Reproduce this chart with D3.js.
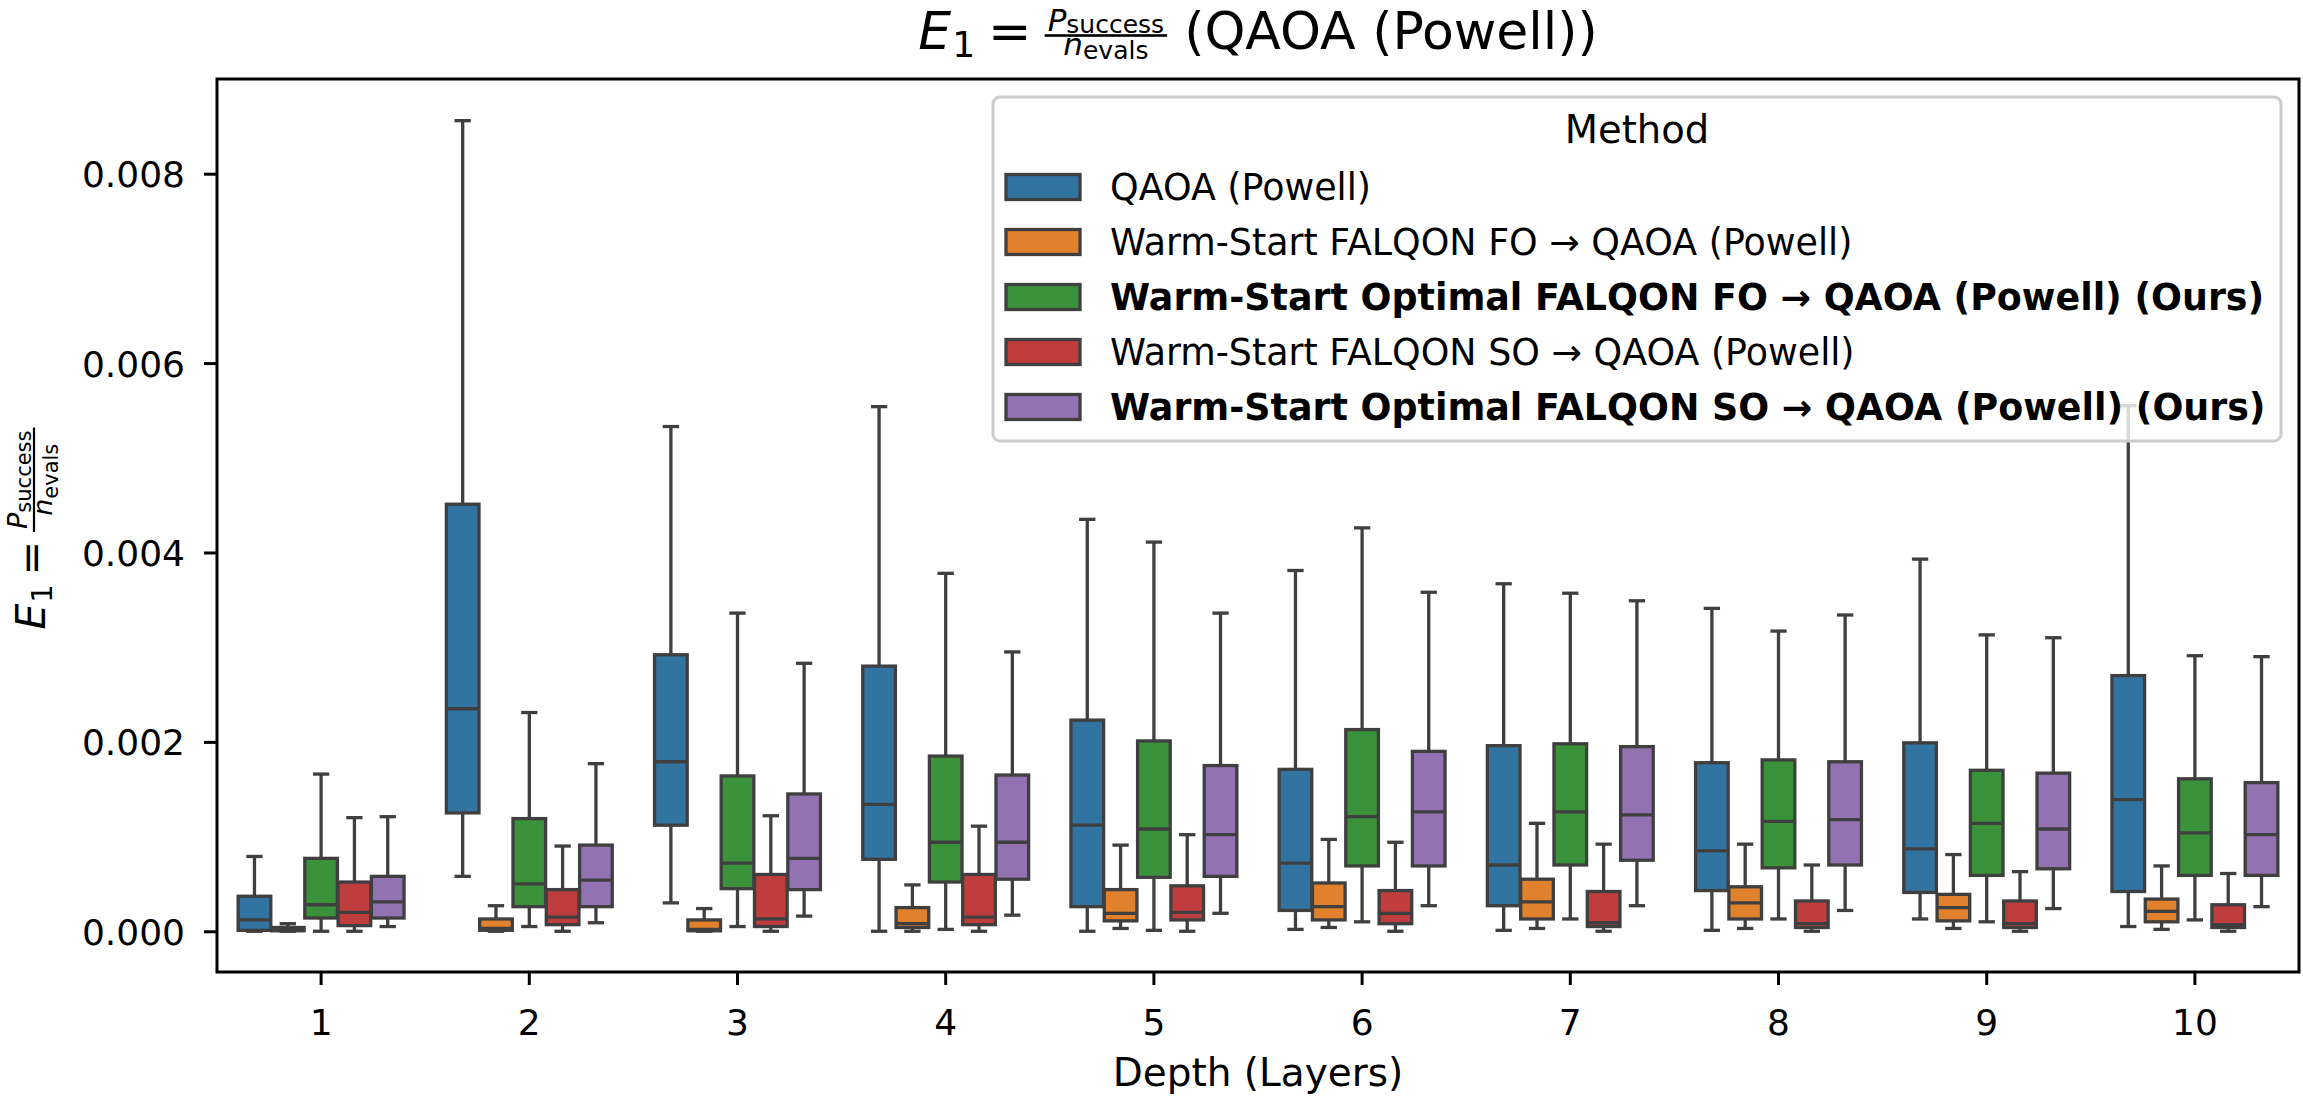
<!DOCTYPE html>
<html>
<head>
<meta charset="utf-8">
<script src="https://cdn.jsdelivr.net/npm/d3@7"></script>
<style>
  html, body { margin: 0; padding: 0; background: #ffffff; }
  svg { display: block; font-family: "DejaVu Sans", sans-serif; }
</style>
</head>
<body>
<svg id="chart" width="2303" height="1100"></svg>
<script>
// ---------------- DATA ----------------
const categories = ["1", "2", "3", "4", "5", "6", "7", "8", "9", "10"];
const methods = [
  "QAOA (Powell)",
  "Warm-Start FALQON FO \u2192 QAOA (Powell)",
  "Warm-Start Optimal FALQON FO \u2192 QAOA (Powell) (Ours)",
  "Warm-Start FALQON SO \u2192 QAOA (Powell)",
  "Warm-Start Optimal FALQON SO \u2192 QAOA (Powell) (Ours)"
];
const boldMethods = [false, false, true, false, true];
const colors = ["#3274a1", "#e1812c", "#3a923a", "#c03d3e", "#9372b2"];

// five-number summaries per depth: [lower whisker, Q1, median, Q3, upper whisker]
const qaoaPowell = [
  [0.00000, 0.00001, 0.00012, 0.00037, 0.00079],
  [0.00058, 0.00125, 0.00235, 0.00451, 0.00856],
  [0.00030, 0.00112, 0.00179, 0.00292, 0.00533],
  [0.00000, 0.00076, 0.00134, 0.00280, 0.00554],
  [0.00000, 0.00026, 0.00112, 0.00223, 0.00435],
  [0.00002, 0.00022, 0.00072, 0.00171, 0.00381],
  [0.00001, 0.00027, 0.00070, 0.00196, 0.00367],
  [0.00001, 0.00043, 0.00085, 0.00178, 0.00341],
  [0.00013, 0.00041, 0.00087, 0.00199, 0.00393],
  [0.00005, 0.00042, 0.00139, 0.00270, 0.00555]
];
const warmFO = [
  [0.00000, 0.000005, 0.00002, 0.00004, 0.00008],
  [0.00000, 0.00001, 0.00003, 0.00013, 0.00027],
  [0.00000, 0.000005, 0.00002, 0.00012, 0.00024],
  [0.00000, 0.00004, 0.00008, 0.00025, 0.00049],
  [0.00003, 0.00011, 0.00019, 0.00044, 0.00091],
  [0.00004, 0.00012, 0.00026, 0.00051, 0.00097],
  [0.00003, 0.00013, 0.00031, 0.00055, 0.00114],
  [0.00003, 0.00013, 0.00030, 0.00047, 0.00092],
  [0.00003, 0.00011, 0.00025, 0.00039, 0.00081],
  [0.00002, 0.00010, 0.00021, 0.00034, 0.00069]
];
const optimalFO = [
  [0.00000, 0.00014, 0.00028, 0.00077, 0.00166],
  [0.00005, 0.00026, 0.00050, 0.00119, 0.00231],
  [0.00005, 0.00045, 0.00072, 0.00164, 0.00336],
  [0.00002, 0.00052, 0.00094, 0.00185, 0.00378],
  [0.00001, 0.00057, 0.00108, 0.00201, 0.00411],
  [0.00010, 0.00069, 0.00121, 0.00213, 0.00426],
  [0.00013, 0.00070, 0.00126, 0.00198, 0.00357],
  [0.00013, 0.00067, 0.00116, 0.00181, 0.00317],
  [0.00010, 0.00059, 0.00114, 0.00170, 0.00313],
  [0.00012, 0.00059, 0.00104, 0.00161, 0.00291]
];
const warmSO = [
  [0.00000, 0.00006, 0.00020, 0.00052, 0.00120],
  [0.00000, 0.00007, 0.00015, 0.00044, 0.00090],
  [0.00000, 0.00005, 0.00013, 0.00060, 0.00122],
  [0.00000, 0.00007, 0.00015, 0.00060, 0.00111],
  [0.00000, 0.00012, 0.00020, 0.00048, 0.00102],
  [0.00000, 0.00008, 0.00019, 0.00043, 0.00094],
  [0.00000, 0.00005, 0.00009, 0.00042, 0.00092],
  [0.00000, 0.00004, 0.00008, 0.00032, 0.00070],
  [0.00000, 0.00004, 0.00008, 0.00032, 0.00063],
  [0.00000, 0.00004, 0.00007, 0.00028, 0.00061]
];
const optimalSO = [
  [0.00005, 0.00014, 0.00031, 0.00058, 0.00121],
  [0.00009, 0.00026, 0.00054, 0.00091, 0.00177],
  [0.00016, 0.00044, 0.00077, 0.00145, 0.00283],
  [0.00017, 0.00055, 0.00094, 0.00165, 0.00295],
  [0.00019, 0.00058, 0.00102, 0.00175, 0.00336],
  [0.00027, 0.00069, 0.00126, 0.00190, 0.00358],
  [0.00027, 0.00075, 0.00123, 0.00195, 0.00349],
  [0.00022, 0.00070, 0.00118, 0.00179, 0.00334],
  [0.00024, 0.00066, 0.00108, 0.00167, 0.00310],
  [0.00026, 0.00059, 0.00102, 0.00157, 0.00290]
];
const seriesStats = [qaoaPowell, warmFO, optimalFO, warmSO, optimalSO];
const yTicks = [0.000, 0.002, 0.004, 0.006, 0.008];
const xLabel = "Depth (Layers)";
const legendTitle = "Method";

// ---------------- LAYOUT ----------------
const svg = d3.select("#chart");
const plot = { left: 217, right: 2299, top: 79, bottom: 972 };
const lineColor = "#3f3f3f";
const lw = 3.3;

const x = d3.scaleBand().domain(categories).range([plot.left, plot.right]).padding(0);
const hue = d3.scaleBand().domain(methods).range([0.1 * x.bandwidth(), 0.9 * x.bandwidth()]).padding(0);
const y = d3.scaleLinear().domain([-0.00043, 0.0090]).range([plot.bottom, plot.top]);

const boxW = hue.bandwidth() * 0.98;
const capW = boxW * 0.5;

// ---------------- BOXES ----------------
const gBoxes = svg.append("g");
methods.forEach((m, mi) => {
  const stats = seriesStats[mi];
  categories.forEach((c, ci) => {
    const [lo, q1, med, q3, hi] = stats[ci];
    const cx = x(c) + hue(m) + hue.bandwidth() / 2;
    const g = gBoxes.append("g");
    g.append("line").attr("x1", cx).attr("x2", cx).attr("y1", y(q3)).attr("y2", y(hi))
      .attr("stroke", lineColor).attr("stroke-width", lw);
    g.append("line").attr("x1", cx).attr("x2", cx).attr("y1", y(q1)).attr("y2", y(lo))
      .attr("stroke", lineColor).attr("stroke-width", lw);
    [hi, lo].forEach(v => {
      g.append("line").attr("x1", cx - capW / 2).attr("x2", cx + capW / 2)
        .attr("y1", y(v)).attr("y2", y(v))
        .attr("stroke", lineColor).attr("stroke-width", lw);
    });
    g.append("rect").attr("x", cx - boxW / 2).attr("width", boxW)
      .attr("y", y(q3)).attr("height", Math.max(0, y(q1) - y(q3)))
      .attr("fill", colors[mi]).attr("stroke", lineColor).attr("stroke-width", lw);
    g.append("line").attr("x1", cx - boxW / 2).attr("x2", cx + boxW / 2)
      .attr("y1", y(med)).attr("y2", y(med))
      .attr("stroke", lineColor).attr("stroke-width", lw);
  });
});

// ---------------- AXES ----------------
const xAxis = d3.axisBottom(x).tickSizeOuter(0).tickSize(13).tickPadding(8);
const gx = svg.append("g").attr("transform", `translate(0,${plot.bottom})`).call(xAxis);
gx.select(".domain").remove();
gx.selectAll(".tick line").attr("stroke", "#000").attr("stroke-width", 3);
gx.selectAll(".tick text").attr("font-size", 36).attr("fill", "#000")
  .attr("font-family", "DejaVu Sans").attr("dy", null).attr("y", 63);

const yAxis = d3.axisLeft(y).tickValues(yTicks).tickFormat(d3.format(".3f")).tickSizeOuter(0).tickSize(13).tickPadding(19);
const gy = svg.append("g").attr("transform", `translate(${plot.left},0)`).call(yAxis);
gy.select(".domain").remove();
gy.selectAll(".tick line").attr("stroke", "#000").attr("stroke-width", 3);
gy.selectAll(".tick text").attr("font-size", 36).attr("fill", "#000")
  .attr("font-family", "DejaVu Sans").attr("dy", "0.36em");

svg.append("rect").attr("x", plot.left).attr("y", plot.top)
  .attr("width", plot.right - plot.left).attr("height", plot.bottom - plot.top)
  .attr("fill", "none").attr("stroke", "#000").attr("stroke-width", 3);

svg.append("text").attr("x", (plot.left + plot.right) / 2).attr("y", 1086)
  .attr("text-anchor", "middle").attr("font-size", 39).attr("fill", "#000").text(xLabel);

// ---------------- MATH LABELS ----------------
function drawMath(g, c, suffix) {
  let cx = 0;
  function put(txt, size, yy, italic, xx) {
    const t = g.append("text").attr("x", xx === undefined ? cx : xx).attr("y", yy)
      .attr("font-size", size).attr("fill", "#000").text(txt);
    if (italic) t.attr("font-style", "italic");
    return t;
  }
  const tE = put("E", c.s, 0, true); cx += tE.node().getComputedTextLength() + c.s * 0.02;
  const t1 = put("1", c.sub, c.subDy, false); cx += t1.node().getComputedTextLength();
  cx += c.gap;
  const tEq = put("=", c.s, 0, false); cx += tEq.node().getComputedTextLength();
  cx += c.gap;
  const tP = put("P", c.fs, c.numY, true, 0);
  const tS = put("success", c.fsub, c.numSubY, false, 0);
  const tN = put("n", c.fs, c.denY, true, 0);
  const tEv = put("evals", c.fsub, c.denSubY, false, 0);
  const wP = tP.node().getComputedTextLength(), wS = tS.node().getComputedTextLength();
  const wN = tN.node().getComputedTextLength(), wEv = tEv.node().getComputedTextLength();
  const numW = wP + wS, denW = wN + wEv;
  const fw = Math.max(numW, denW);
  const pad = c.pad;
  const fx = cx;
  const nx = fx + pad + (fw - numW) / 2;
  tP.attr("x", nx); tS.attr("x", nx + wP);
  const dx = fx + pad + (fw - denW) / 2;
  tN.attr("x", dx); tEv.attr("x", dx + wN);
  g.append("rect").attr("x", fx).attr("y", c.barY - c.barH / 2)
    .attr("width", fw + 2 * pad).attr("height", c.barH).attr("fill", "#000");
  cx = fx + fw + 2 * pad;
  if (suffix) {
    cx += c.sufGap;
    const tSuf = put(suffix, c.s, 0, false); cx += tSuf.node().getComputedTextLength();
  }
  return cx;
}

const gTitle = svg.append("g");
const titleW = drawMath(gTitle, {
  s: 52, sub: 36, subDy: 8, gap: 13, pad: 3,
  fs: 31, fsub: 25, numY: -18, numSubY: -16, denY: 6, denSubY: 10,
  barY: -13.5, barH: 2.6, sufGap: 17
}, "(QAOA (Powell))");
gTitle.attr("transform", `translate(${(plot.left + plot.right) / 2 - titleW / 2}, 49)`);

const gYL = svg.append("g");
const ylW = drawMath(gYL, {
  s: 41, sub: 29, subDy: 7, gap: 9, pad: 3,
  fs: 27, fsub: 21, numY: -18, numSubY: -14, denY: 7, denSubY: 13,
  barY: -11, barH: 2.2, sufGap: 0
}, null);
gYL.attr("transform", `translate(45, ${(plot.top + plot.bottom) / 2 + 3 + ylW / 2}) rotate(-90)`);

// ---------------- LEGEND ----------------
const leg = { x0: 993, y0: 97, x1: 2281, y1: 441 };
const gL = svg.append("g");
gL.append("rect").attr("x", leg.x0).attr("y", leg.y0)
  .attr("width", leg.x1 - leg.x0).attr("height", leg.y1 - leg.y0)
  .attr("rx", 7).attr("ry", 7)
  .attr("fill", "#ffffff").attr("fill-opacity", 0.8)
  .attr("stroke", "#cccccc").attr("stroke-width", 3);
gL.append("text").attr("x", (leg.x0 + leg.x1) / 2).attr("y", 143)
  .attr("text-anchor", "middle").attr("font-size", 38.5).attr("fill", "#000").text(legendTitle);
const rowY = d3.scalePoint().domain(methods).range([187, 407]);
methods.forEach((m, i) => {
  const cy = rowY(m);
  gL.append("rect").attr("x", 1006).attr("y", cy - 12.5).attr("width", 74).attr("height", 25)
    .attr("fill", colors[i]).attr("stroke", lineColor).attr("stroke-width", lw);
  gL.append("text").attr("x", 1110).attr("y", cy + 12.5)
    .attr("font-size", 36.4).attr("fill", "#000")
    .attr("font-weight", boldMethods[i] ? "bold" : "normal").text(m);
});
</script>
</body>
</html>
